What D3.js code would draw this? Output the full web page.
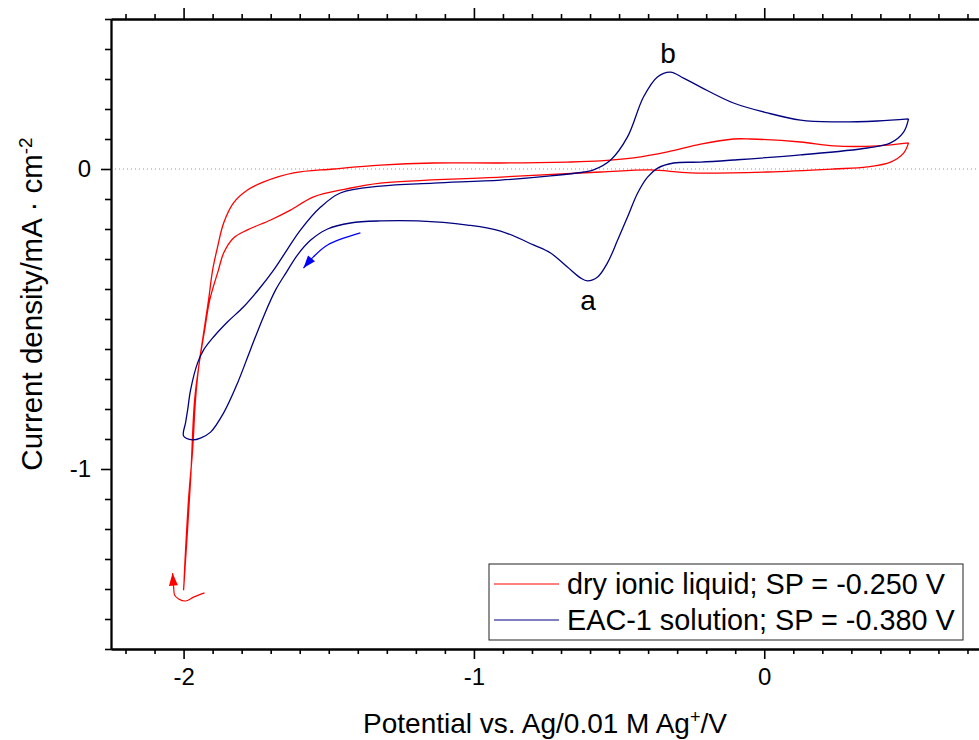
<!DOCTYPE html>
<html>
<head>
<meta charset="utf-8">
<script src="https://cdn.jsdelivr.net/npm/d3@7"></script>
<style>
  body { margin: 0; background: #fff; }
  text { font-family: Arial, "Liberation Sans", sans-serif; }
</style>
</head>
<body>
<div id="chart"></div>
<script>
// dry ionic liquid, SP = -0.250 V
const redV = [0.497, 0.391, 0.239, 0.125, -0.047, -0.106, -0.219, -0.333, -0.450, -0.564, -0.678, -0.908, -1.139, -1.322, -1.484, -1.621, -1.724, -1.780, -1.828, -1.862, -1.883, -1.900, -1.914, -1.931, -1.948, -1.959, -1.969, -1.983, -2.000,
  -1.976, -1.962, -1.945, -1.928, -1.910, -1.880, -1.862, -1.828, -1.780, -1.700, -1.632, -1.552, -1.442, -1.322, -0.908, -0.564, -0.392, -0.254, 0.011, 0.239, 0.355, 0.435, 0.480, 0.497];
const redJ = [0.087, 0.077, 0.077, 0.090, 0.100, 0.100, 0.083, 0.057, 0.037, 0.027, 0.023, 0.020, 0.020, 0.013, 0.000, -0.013, -0.043, -0.070, -0.113, -0.180, -0.260, -0.337, -0.437, -0.547, -0.660, -0.770, -0.937, -1.103, -1.403,
  -1.037, -0.770, -0.640, -0.540, -0.437, -0.337, -0.280, -0.230, -0.203, -0.170, -0.137, -0.093, -0.067, -0.047, -0.027, -0.010, -0.003, -0.013, -0.010, 0.000, 0.007, 0.023, 0.053, 0.087];

// EAC-1 solution, SP = -0.380 V
const blueV = [0.497, 0.480, 0.435, 0.355, 0.125, -0.106, -0.219, -0.312, -0.367, -0.402, -0.436, -0.471, -0.505, -0.540, -0.574, -0.609, -0.633, -0.678, -0.736, -0.795, -0.908, -1.022, -1.194, -1.322, -1.425, -1.504, -1.562, -1.608, -1.645, -1.683, -1.725, -1.770, -1.814, -1.862, -1.907, -1.942, -1.969, -2.000,
  -1.993, -1.986, -1.976, -1.952, -1.931, -1.897, -1.849, -1.794, -1.740, -1.690, -1.642, -1.597, -1.528, -1.460, -1.322, -1.139, -0.908, -0.736, -0.622, -0.588, -0.529, -0.471, -0.416, -0.368, -0.323, -0.278, -0.219, -0.106, 0.011, 0.125, 0.239, 0.390, 0.497];
const blueJ = [0.167, 0.123, 0.087, 0.070, 0.047, 0.030, 0.023, 0.020, 0.003, -0.027, -0.080, -0.160, -0.237, -0.313, -0.360, -0.373, -0.363, -0.327, -0.280, -0.253, -0.207, -0.187, -0.173, -0.173, -0.180, -0.200, -0.237, -0.287, -0.343, -0.403, -0.493, -0.603, -0.713, -0.813, -0.877, -0.897, -0.903, -0.890,
  -0.845, -0.803, -0.737, -0.647, -0.603, -0.560, -0.510, -0.460, -0.400, -0.337, -0.267, -0.203, -0.127, -0.080, -0.057, -0.047, -0.037, -0.023, -0.010, -0.003, 0.030, 0.107, 0.240, 0.307, 0.323, 0.303, 0.273, 0.220, 0.187, 0.163, 0.157, 0.160, 0.167];

// scan direction arrows
const blueArrowV = [-1.391, -1.504, -1.553, -1.587];
const blueArrowJ = [-0.213, -0.253, -0.293, -0.330];
const redArrowV = [-1.928, -1.966, -1.993, -2.017, -2.031, -2.034, -2.038];
const redArrowJ = [-1.413, -1.427, -1.440, -1.433, -1.420, -1.397, -1.347];

const seriesNames = ["dry ionic liquid; SP = -0.250 V", "EAC-1 solution; SP = -0.380 V"];
const xMajor = [-2, -1, 0];
const yMajor = [0, -1];

const width = 979;
const height = 740;

const svg = d3.select("#chart").append("svg")
  .attr("width", width)
  .attr("height", height);

const x = d3.scaleLinear().domain([-2.25, 0.75]).range([111, 982]);
const y = d3.scaleLinear().domain([-1.6, 0.5]).range([649, 19]);

const xMinor = d3.range(-22, 8).map(i => i / 10).filter(v => !xMajor.includes(v));
const yMinor = d3.range(-16, 6).map(i => i / 10).filter(v => !yMajor.includes(v));
const plain = d => String(d);

const defs = svg.append("defs");
function arrowMarker(id, color) {
  defs.append("marker")
    .attr("id", id)
    .attr("viewBox", "0 0 14 10")
    .attr("refX", 14)
    .attr("refY", 5)
    .attr("markerWidth", 14)
    .attr("markerHeight", 9)
    .attr("markerUnits", "userSpaceOnUse")
    .attr("orient", "auto")
    .append("path")
    .attr("d", "M0,0 L14,5 L0,10 Z")
    .attr("fill", color);
}
arrowMarker("arrow-blue", "#0000ff");
arrowMarker("arrow-red", "#ff0000");

// zero line
svg.append("line")
  .attr("x1", x(-2.25)).attr("x2", x(0.75))
  .attr("y1", y(0)).attr("y2", y(0))
  .attr("stroke", "#999")
  .attr("stroke-width", 1)
  .attr("stroke-dasharray", "1,3");

const line = d3.line()
  .x(d => x(d[0]))
  .y(d => y(d[1]))
  .curve(d3.curveCatmullRom.alpha(0.5));

svg.append("path")
  .datum(d3.zip(redV, redJ))
  .attr("d", line)
  .attr("fill", "none")
  .attr("stroke", "#ff0000")
  .attr("stroke-width", 1.3);

svg.append("path")
  .datum(d3.zip(blueV, blueJ))
  .attr("d", line)
  .attr("fill", "none")
  .attr("stroke", "#000080")
  .attr("stroke-width", 1.3);

svg.append("path")
  .datum(d3.zip(blueArrowV, blueArrowJ))
  .attr("d", line)
  .attr("fill", "none")
  .attr("stroke", "#0000ff")
  .attr("stroke-width", 1.2)
  .attr("marker-end", "url(#arrow-blue)");

svg.append("path")
  .datum(d3.zip(redArrowV, redArrowJ))
  .attr("d", line)
  .attr("fill", "none")
  .attr("stroke", "#ff0000")
  .attr("stroke-width", 1.2)
  .attr("marker-end", "url(#arrow-red)");

// axes
function styleAxis(g) {
  g.selectAll("path.domain").attr("stroke", "#000").attr("stroke-width", 1.8);
  g.selectAll(".tick line").attr("stroke", "#000").attr("stroke-width", 1.6);
  g.selectAll(".tick text").attr("fill", "#000").style("font-size", "24px")
    .style("font-family", "Arial, 'Liberation Sans', sans-serif");
}

svg.append("g")
  .attr("transform", `translate(0,${y(-1.6)})`)
  .call(d3.axisBottom(x).tickValues(xMinor).tickSize(5).tickSizeOuter(0).tickFormat(""))
  .call(styleAxis);
svg.append("g")
  .attr("transform", `translate(0,${y(-1.6)})`)
  .call(d3.axisBottom(x).tickValues(xMajor).tickSize(10).tickSizeOuter(0).tickPadding(9).tickFormat(plain))
  .call(styleAxis);

svg.append("g")
  .attr("transform", `translate(0,${y(0.5)})`)
  .call(d3.axisTop(x).tickValues(xMinor).tickSize(5).tickSizeOuter(0).tickFormat(""))
  .call(styleAxis);
svg.append("g")
  .attr("transform", `translate(0,${y(0.5)})`)
  .call(d3.axisTop(x).tickValues(xMajor).tickSize(11).tickSizeOuter(0).tickFormat(""))
  .call(styleAxis);

svg.append("g")
  .attr("transform", `translate(${x(-2.25)},0)`)
  .call(d3.axisLeft(y).tickValues(yMinor).tickSize(6).tickSizeOuter(0).tickFormat(""))
  .call(styleAxis);
svg.append("g")
  .attr("transform", `translate(${x(-2.25)},0)`)
  .call(d3.axisLeft(y).tickValues(yMajor).tickSize(10).tickSizeOuter(0).tickPadding(10).tickFormat(plain))
  .call(styleAxis);

svg.append("line")
  .attr("x1", x(0.75)).attr("x2", x(0.75))
  .attr("y1", y(0.5)).attr("y2", y(-1.6))
  .attr("stroke", "#000").attr("stroke-width", 1.8);

// axis titles
const xTitle = svg.append("text")
  .attr("x", 545)
  .attr("y", 733)
  .attr("text-anchor", "middle")
  .style("font-size", "28px");
xTitle.append("tspan").text("Potential vs. Ag/0.01 M Ag");
xTitle.append("tspan").attr("dy", -10).style("font-size", "18px").text("+");
xTitle.append("tspan").attr("dy", 10).text("/V");

const yTitle = svg.append("text")
  .attr("transform", `translate(42,304) rotate(-90)`)
  .attr("text-anchor", "middle")
  .style("font-size", "29.5px");
yTitle.append("tspan").text("Current density/mA \u00b7 cm");
yTitle.append("tspan").attr("dy", -10).style("font-size", "19px").text("-2");

// peak labels
svg.append("text")
  .attr("x", 668).attr("y", 63)
  .attr("text-anchor", "middle")
  .style("font-size", "28px")
  .text("b");
svg.append("text")
  .attr("x", 588).attr("y", 310)
  .attr("text-anchor", "middle")
  .style("font-size", "28px")
  .text("a");

// legend
const legend = svg.append("g").attr("transform", "translate(489,564)");
legend.append("rect")
  .attr("width", 474)
  .attr("height", 76)
  .attr("fill", "#fff")
  .attr("stroke", "#222")
  .attr("stroke-width", 1);

const legendColors = ["#ff0000", "#000080"];
seriesNames.forEach((name, i) => {
  legend.append("line")
    .attr("x1", 5).attr("x2", 70)
    .attr("y1", 20 + i * 36).attr("y2", 20 + i * 36)
    .attr("stroke", legendColors[i])
    .attr("stroke-width", 1);
  legend.append("text")
    .attr("x", 78)
    .attr("y", 30 + i * 36)
    .style("font-size", "28.8px")
    .text(name);
});
</script>
</body>
</html>
